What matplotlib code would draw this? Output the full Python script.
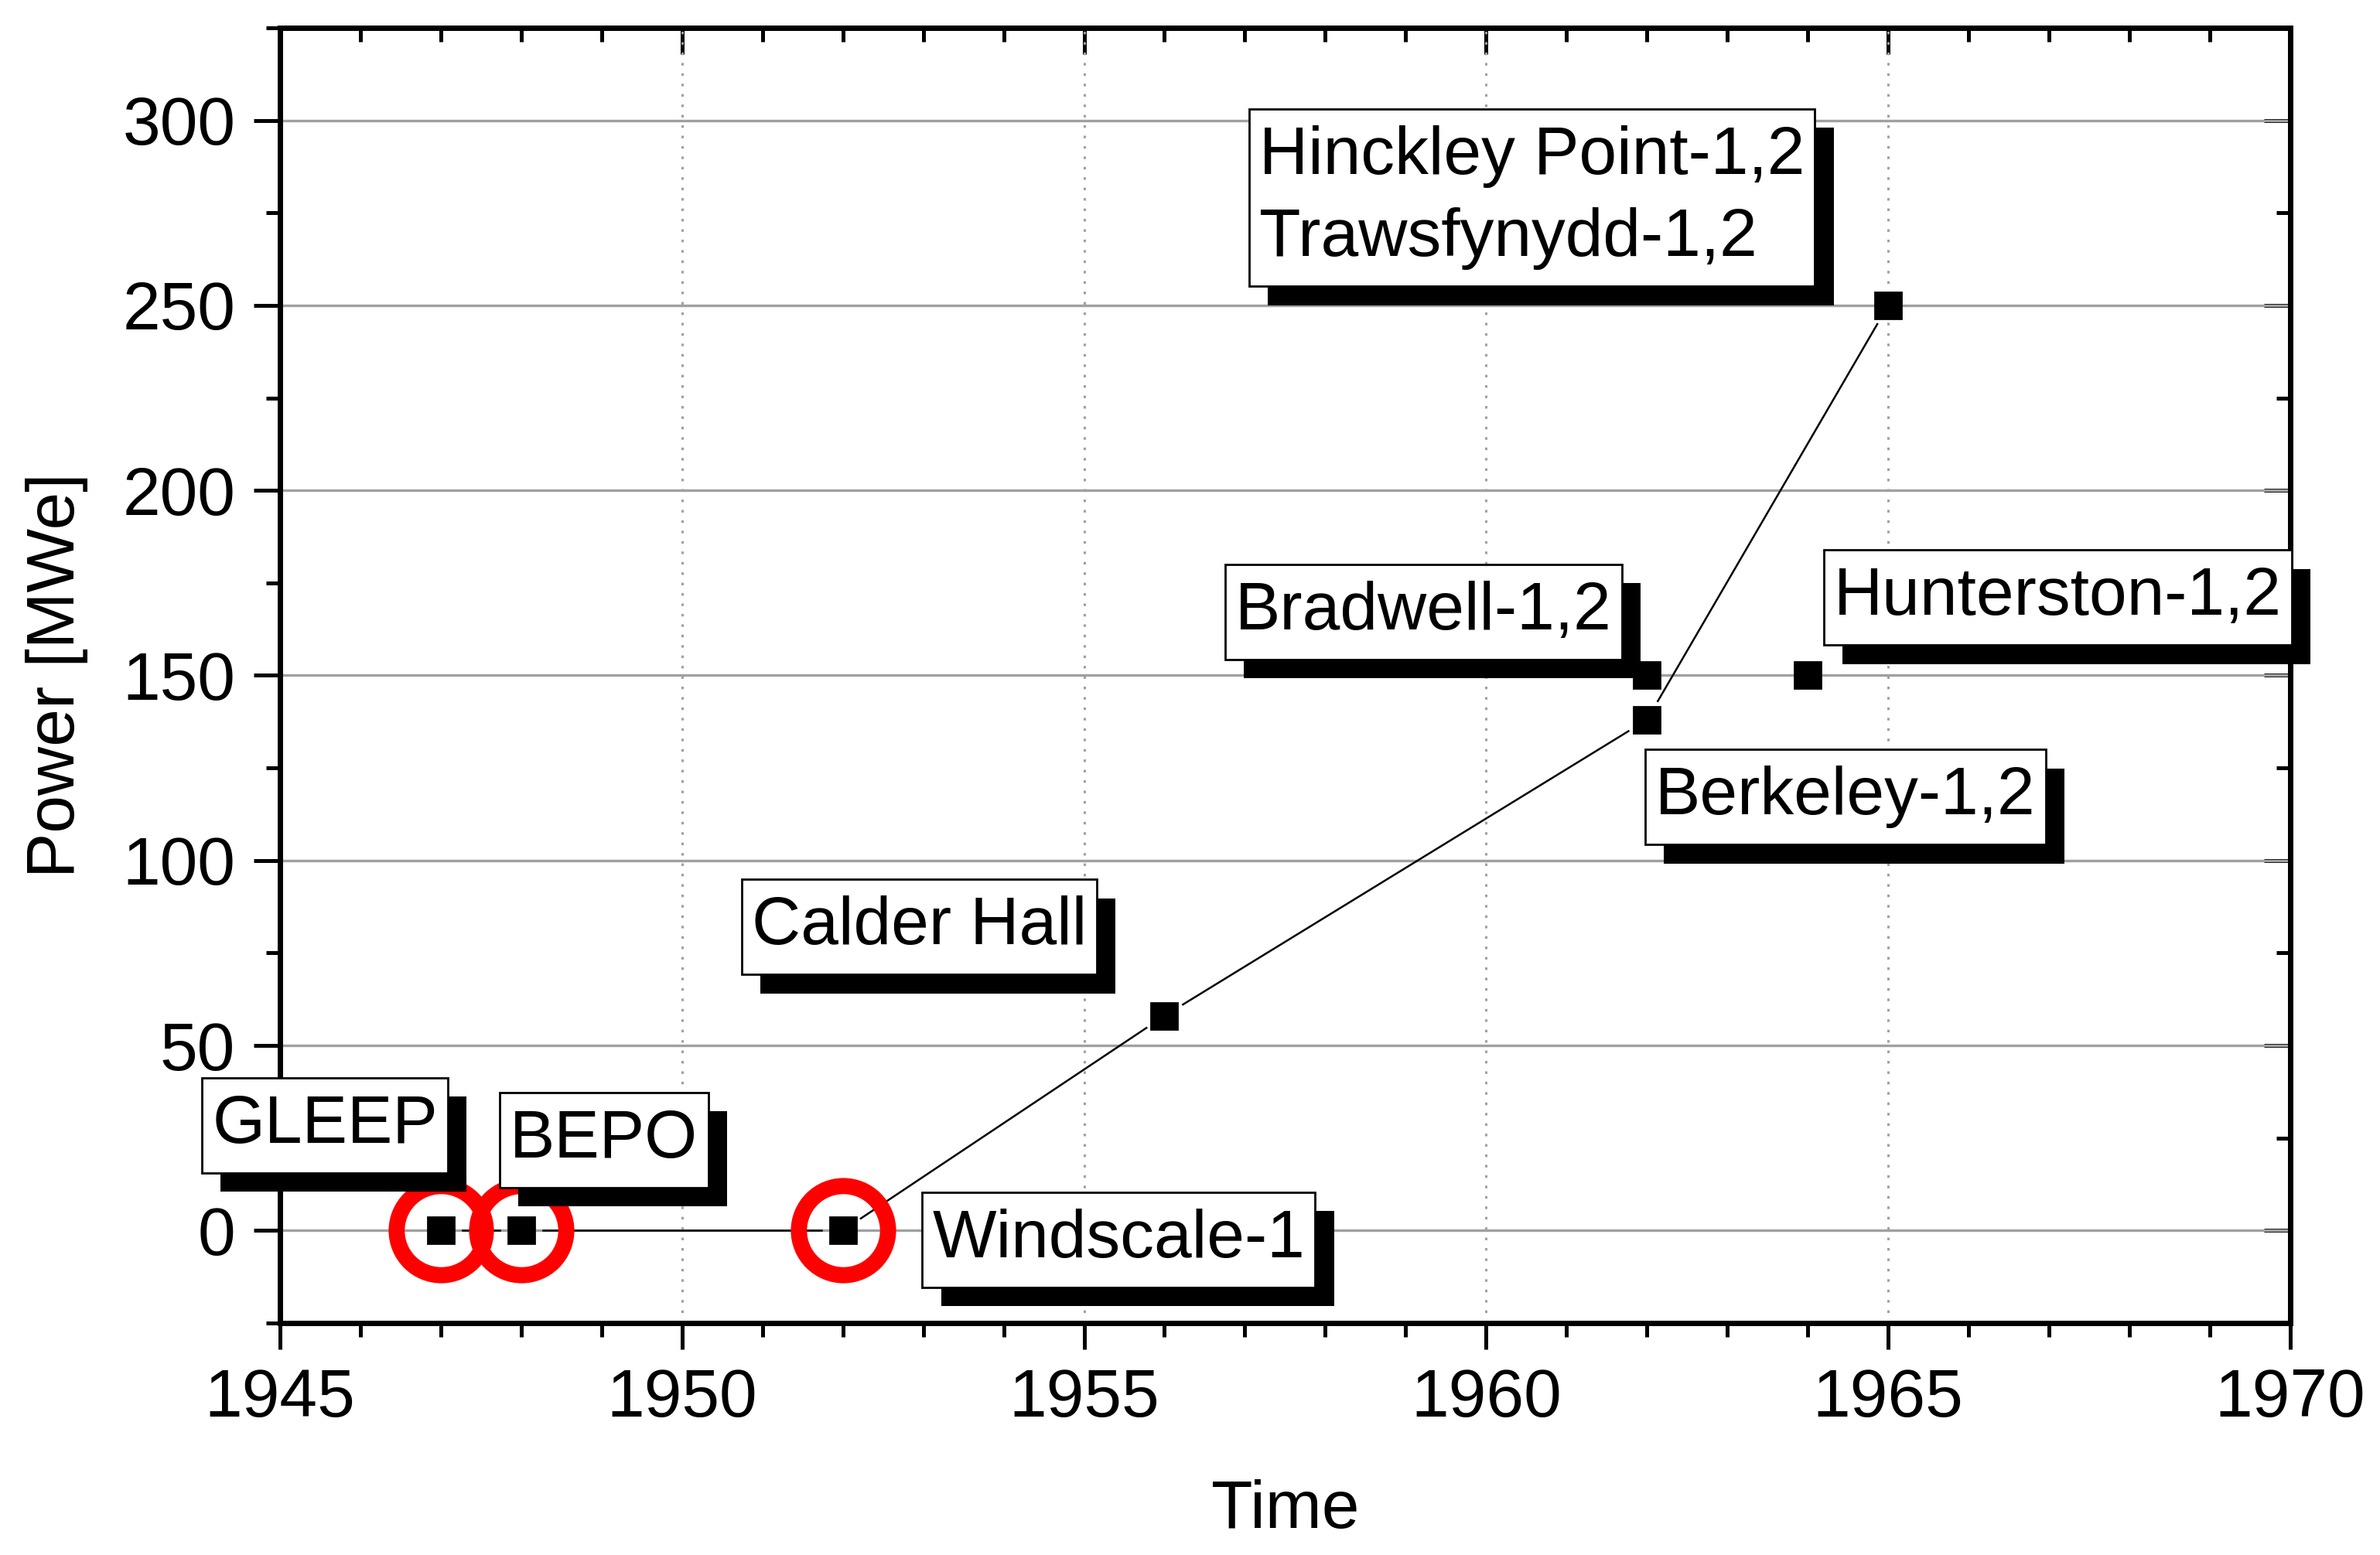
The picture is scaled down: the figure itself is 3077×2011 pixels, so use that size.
import matplotlib
matplotlib.use("Agg")
import numpy as np
import matplotlib.pyplot as plt
import matplotlib.patheffects as pe
from matplotlib.path import Path
from matplotlib.ticker import MultipleLocator

# reactor start-up data (year, MWe)
years = [1947, 1948, 1952, 1956, 1962, 1962, 1964, 1965]
power = [0, 0, 0, 58, 138, 150, 150, 250]

# points joined by the line
line_years = [1947, 1948, 1952, 1956, 1962, 1965]
line_power = [0, 0, 0, 58, 138, 250]

# red-circled points
circ_years = [1947, 1948, 1952]
circ_power = [0, 0, 0]

labels = ["GLEEP", "BEPO", "Windscale-1", "Calder Hall", "Berkeley-1,2",
          "Bradwell-1,2", "Hunterston-1,2", "Hinckley Point-1,2\nTrawsfynydd-1,2"]
label_x = [1945.56, 1949.03, 1955.43, 1952.95, 1964.47, 1959.22, 1967.11, 1960.57]
label_y = [28.4, 24.4, -2.5, 82.0, 117.1, 167.2, 171.0, 279.1]

plt.rcParams["font.family"] = ["Liberation Sans", "DejaVu Sans"]
FS = 63
GAP = 28  # px, Origin-style gap between line and symbol


def label_box(x0, y0, width, height, mutation_size):
    # square box, a bit more padding top/bottom than left/right
    px = 0.15 * mutation_size
    py = 0.24 * mutation_size
    x1, y1 = x0 + width + px, y0 + height + py
    x0, y0 = x0 - px, y0 - py
    return Path([(x0, y0), (x1, y0), (x1, y1), (x0, y1), (x0, y0)], closed=True)


fig = plt.figure(figsize=(30.77, 20.11), dpi=100)
ax = fig.add_axes([0.1176, 0.1492, 0.9623 - 0.1176, 0.9821 - 0.1492])
ax.set_xlim(1945, 1970)
ax.set_ylim(-25, 325)

# connecting line, cut short near each symbol
pts = ax.transData.transform(np.column_stack([line_years, line_power]))
inv = ax.transData.inverted()
for p0, p1 in zip(pts[:-1], pts[1:]):
    d = p1 - p0
    u = d / np.hypot(*d)
    seg = inv.transform(np.array([p0 + u * GAP, p1 - u * GAP]))
    ax.plot(seg[:, 0], seg[:, 1], color="black", lw=1.8, zorder=2)

ax.plot(circ_years, circ_power, ls="none", marker="o", ms=83, mfc="none",
        mec="red", mew=15, zorder=3)
ax.plot(years, power, ls="none", marker="s", ms=24, mfc="black", mec="black",
        mew=2, zorder=4)

for txt, x, y in zip(labels, label_x, label_y):
    t = ax.text(x, y, txt, fontsize=FS, ha="center", va="center",
                multialignment="left", linespacing=1.4, zorder=6,
                bbox=dict(boxstyle=label_box, fc="white", ec="black", lw=2))
    t.get_bbox_patch().set_path_effects([
        pe.SimplePatchShadow(offset=(17.5, -17.5), shadow_rgbFace="black", alpha=1.0),
        pe.Normal()])

ax.xaxis.set_major_locator(MultipleLocator(5))
ax.xaxis.set_minor_locator(MultipleLocator(1))
ax.yaxis.set_major_locator(MultipleLocator(50))
ax.yaxis.set_minor_locator(MultipleLocator(25))

ax.set_axisbelow(True)
ax.yaxis.grid(True, which="major", color="#a0a0a0", lw=2.4, ls="-")
ax.xaxis.grid(True, which="major", color="#a0a0a0", lw=2.2, ls=(0, (1.1, 3.3)))

for sp in ax.spines.values():
    sp.set_linewidth(5)

ax.tick_params(which="major", direction="out", length=24.5, width=3.6,
               labelsize=FS, pad=17)
ax.tick_params(which="minor", direction="out", length=13, width=3.6)

# inward ticks on top and right, no labels
top = ax.secondary_xaxis("top")
top.xaxis.set_major_locator(MultipleLocator(5))
top.xaxis.set_minor_locator(MultipleLocator(1))
top.tick_params(which="major", direction="in", length=24.5, width=3.6, labeltop=False)
top.tick_params(which="minor", direction="in", length=13, width=3.6)
right = ax.secondary_yaxis("right")
right.yaxis.set_major_locator(MultipleLocator(50))
right.yaxis.set_minor_locator(MultipleLocator(25))
right.tick_params(which="major", direction="in", length=24.5, width=3.6, labelright=False)
right.tick_params(which="minor", direction="in", length=13, width=3.6)
for s in (top, right):
    for sp in s.spines.values():
        sp.set_linewidth(5)

ax.set_xlabel("Time", fontsize=FS, labelpad=46)
ax.set_ylabel("Power [MWe]", fontsize=FS, labelpad=32)

fig.savefig("out.png", dpi=100)
